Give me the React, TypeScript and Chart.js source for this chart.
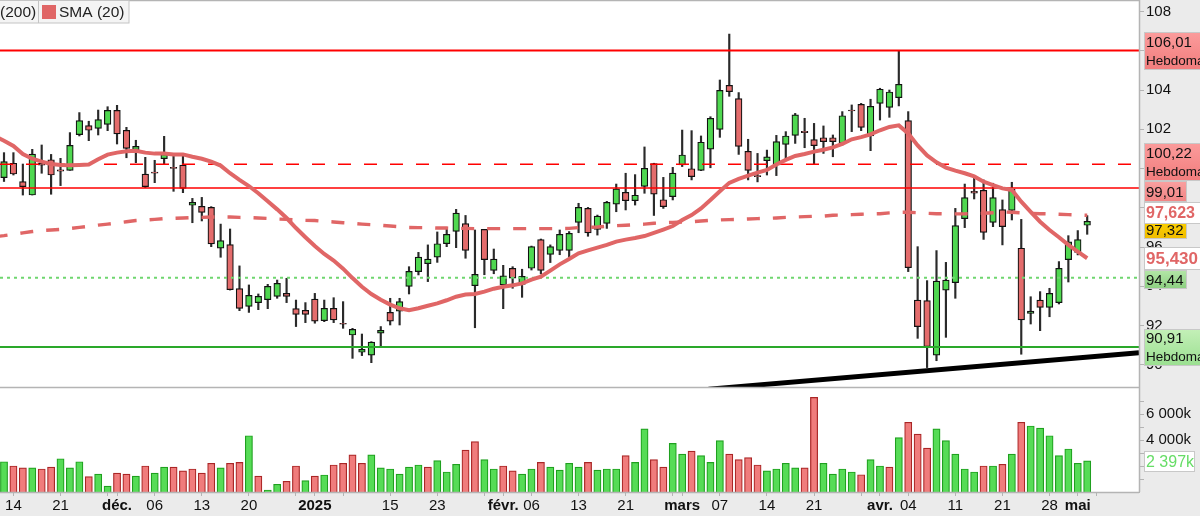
import { useEffect, useRef } from "react";
import { Chart, registerables } from "chart.js";

Chart.register(...registerables);

// daily candles, left to right
const opens = [
  99.54, 100.27, 99.33, 98.65, 100.27, 100.45, 99.93, 99.91, 101.73, 102.19,
  102.05, 102.25, 102.96, 101.95, 100.96, 99.72, 99.82, 100.5, 100.06, 100.17,
  98.13, 98.07, 98.02, 95.94, 96.12, 93.88, 92.98, 93.17, 93.32, 93.49,
  93.64, 92.86, 92.78, 93.35, 92.25, 92.88, 92.12, 91.52, 90.64, 90.49,
  91.61, 92.67, 92.74, 94.0, 94.75, 95.15, 95.49, 96.17, 96.8, 97.19,
  94.03, 96.9, 94.81, 94.07, 94.92, 94.1, 94.92, 96.38, 95.63, 95.83,
  95.83, 97.26, 97.97, 96.9, 97.21, 98.19, 98.79, 98.36, 99.09, 100.25,
  98.41, 98.57, 100.18, 99.99, 99.91, 100.99, 101.99, 104.24, 103.56, 100.88,
  99.64, 100.4, 100.18, 101.23, 101.69, 101.9, 101.47, 101.57, 101.57, 101.28,
  102.98, 103.27, 101.66, 103.32, 103.12, 103.61, 102.44, 93.3, 93.27, 90.49,
  93.8, 94.19, 97.45, 98.84, 98.89, 97.26, 97.91, 97.87, 95.94, 92.62,
  93.3, 92.93, 93.17, 95.36, 95.73, 97.11,
];
const closes = [
  100.35, 99.72, 99.08, 100.74, 100.17, 99.67, 99.86, 101.18, 102.44, 101.95,
  102.49, 102.96, 101.76, 101.03, 101.13, 99.08, 99.77, 100.72, 100.01, 98.99,
  98.28, 97.77, 96.16, 96.33, 93.83, 92.88, 93.54, 93.49, 94.0, 94.15,
  93.49, 92.57, 92.57, 92.23, 92.88, 92.29, 92.07, 91.81, 90.79, 91.16,
  91.76, 92.23, 93.22, 94.76, 95.49, 95.39, 96.17, 96.65, 97.73, 95.83,
  94.61, 95.36, 95.39, 94.53, 94.42, 94.51, 96.02, 94.81, 96.02, 96.65,
  96.7, 98.02, 96.72, 97.58, 98.28, 98.97, 98.36, 98.64, 100.01, 98.7,
  98.06, 99.77, 100.69, 99.59, 101.34, 102.56, 103.98, 103.92, 101.13, 99.91,
  99.59, 100.6, 101.37, 101.66, 102.73, 101.83, 101.17, 101.37, 101.37, 102.69,
  102.93, 102.1, 103.17, 104.04, 103.9, 104.29, 94.95, 91.95, 90.93, 94.27,
  94.32, 97.09, 98.52, 98.75, 96.75, 98.52, 97.04, 98.96, 92.29, 92.74,
  92.93, 93.64, 94.92, 96.27, 96.38, 97.31,
];
const highs = [
  100.81, 100.81, 100.23, 100.98, 101.2, 100.72, 100.52, 101.83, 102.85, 102.41,
  102.98, 103.15, 103.22, 102.1, 101.44, 100.57, 100.42, 101.64, 100.77, 100.69,
  98.48, 98.53, 98.06, 97.17, 96.92, 95.04, 94.07, 93.61, 94.1, 94.32,
  94.41, 93.3, 93.17, 93.64, 93.3, 93.42, 93.22, 91.86, 91.57, 91.18,
  91.95, 93.39, 93.39, 95.0, 95.73, 96.11, 96.77, 96.92, 97.92, 97.61,
  96.87, 96.9, 95.9, 95.07, 95.0, 94.87, 96.05, 96.41, 96.11, 96.87,
  96.79, 98.23, 98.02, 97.63, 98.33, 99.21, 99.76, 99.69, 101.1, 100.27,
  99.55, 100.06, 101.96, 101.93, 101.66, 102.64, 104.51, 106.85, 103.87, 101.49,
  100.77, 100.94, 101.69, 101.88, 102.81, 102.56, 102.3, 102.17, 101.71, 102.9,
  103.24, 103.32, 103.53, 104.09, 104.0, 106.0, 102.9, 96.02, 94.29, 95.82,
  95.22, 97.97, 99.21, 99.54, 99.42, 99.25, 98.4, 99.3, 97.41, 93.47,
  93.73, 93.9, 95.26, 96.58, 96.84, 97.6,
];
const lows = [
  99.34, 99.67, 98.65, 98.65, 99.76, 98.69, 99.13, 99.91, 101.66, 101.42,
  101.71, 101.93, 101.25, 100.55, 100.3, 99.03, 99.28, 100.23, 98.84, 98.77,
  97.24, 97.33, 96.02, 95.48, 93.81, 92.76, 92.67, 92.81, 92.86, 93.39,
  93.17, 91.95, 92.15, 92.12, 92.2, 92.15, 91.86, 90.33, 90.47, 90.11,
  90.93, 92.03, 92.03, 93.61, 94.58, 94.24, 95.22, 96.02, 95.97, 95.43,
  91.89, 94.59, 94.64, 92.86, 93.9, 93.44, 94.83, 94.63, 95.21, 95.61,
  95.48, 96.73, 96.55, 96.61, 96.95, 97.8, 97.89, 98.14, 98.74, 97.61,
  97.97, 98.4, 100.1, 99.42, 99.89, 100.04, 101.59, 103.68, 100.72, 99.42,
  99.32, 99.67, 99.64, 100.47, 101.28, 101.06, 100.21, 100.77, 100.6, 101.2,
  101.88, 101.93, 100.91, 102.47, 102.61, 103.19, 94.75, 91.35, 89.86, 90.21,
  91.4, 93.39, 96.99, 98.45, 96.39, 97.04, 96.11, 97.38, 90.54, 92.08,
  91.74, 92.45, 93.1, 94.22, 95.6, 96.65,
];

// moving averages start one session before the first visible candle
const sma20 = [
  101.66, 101.42, 101.15, 100.74, 100.5, 100.35, 100.23, 100.18, 100.17, 100.18, 100.2,
  100.47, 100.71, 100.81, 100.88, 100.91, 100.81, 100.76, 100.77, 100.72, 100.72,
  100.6, 100.5, 100.35, 100.15, 99.76, 99.42, 99.11, 98.74, 98.33, 97.92,
  97.48, 96.97, 96.5, 96.05, 95.65, 95.31, 94.9, 94.42, 93.98, 93.61,
  93.32, 93.07, 92.88, 92.78, 92.88, 93.01, 93.13, 93.29, 93.47, 93.58,
  93.61, 93.73, 93.88, 93.98, 94.05, 94.15, 94.34, 94.49, 94.8, 95.12,
  95.39, 95.68, 95.83, 95.97, 96.11, 96.28, 96.38, 96.46, 96.56, 96.72,
  96.89, 97.07, 97.38, 97.63, 97.97, 98.4, 98.84, 99.27, 99.47, 99.64,
  99.79, 99.93, 100.21, 100.44, 100.64, 100.74, 100.86, 100.96, 101.08, 101.25,
  101.49, 101.6, 101.74, 101.95, 102.12, 102.2, 101.79, 101.18, 100.67, 100.32,
  100.05, 99.89, 99.76, 99.6, 99.33, 99.16, 98.99, 98.91, 98.31, 97.79,
  97.29, 96.87, 96.5, 96.11, 95.77, 95.43,
];
const sma200 = [
  96.53, 96.58, 96.65, 96.72, 96.79, 96.84, 96.87, 96.9, 96.95, 97.0, 97.06,
  97.12, 97.17, 97.23, 97.29, 97.35, 97.38, 97.41, 97.45, 97.46, 97.48,
  97.5, 97.51, 97.53, 97.53, 97.53, 97.51, 97.5, 97.48, 97.46, 97.43,
  97.41, 97.38, 97.36, 97.35, 97.31, 97.28, 97.24, 97.21, 97.17, 97.14,
  97.11, 97.07, 97.04, 97.0, 96.99, 96.99, 96.97, 96.97, 96.95, 96.95,
  96.94, 96.94, 96.94, 96.94, 96.94, 96.94, 96.94, 96.94, 96.94, 96.94,
  96.95, 96.99, 97.0, 97.02, 97.06, 97.09, 97.11, 97.14, 97.17, 97.21,
  97.24, 97.26, 97.28, 97.29, 97.33, 97.36, 97.38, 97.4, 97.41, 97.43,
  97.45, 97.46, 97.48, 97.51, 97.53, 97.55, 97.57, 97.58, 97.62, 97.63,
  97.65, 97.67, 97.69, 97.7, 97.74, 97.77, 97.77, 97.75, 97.72, 97.7,
  97.69, 97.69, 97.69, 97.7, 97.72, 97.75, 97.79, 97.77, 97.74, 97.72,
  97.7, 97.69, 97.67, 97.65, 97.63, 97.62,
];

const volumes = [
  2330, 2000, 1850, 1850, 1770, 1920, 2560, 1850, 2330, 1180,
  1380, 460, 1460, 1380, 1230, 2000, 1460, 1920, 1920, 1620,
  1770, 1460, 2210, 1850, 2210, 2280, 4330, 1230, 150, 590,
  820, 2000, 870, 1230, 1310, 2080, 2210, 2850, 2210, 2850,
  1850, 1770, 1380, 1920, 2080, 1920, 2410, 1540, 2130, 3230,
  3870, 2490, 1770, 2000, 1620, 1380, 1770, 2280, 1920, 1690,
  2210, 1920, 2280, 1690, 1770, 1770, 2800, 2280, 4850, 2490,
  1920, 3740, 2920, 3150, 2800, 2280, 3950, 2920, 2490, 2640,
  2080, 1620, 1770, 2210, 1850, 1850, 7280, 2210, 1380, 1770,
  1540, 1330, 2490, 2000, 1920, 4180, 5360, 4460, 3380, 4850,
  3950, 2920, 1770, 1540, 2000, 2000, 2130, 2920, 5360, 5080,
  4920, 4330, 2800, 3310, 2210, 2400,
];
// 1 = green volume bar, 0 = red
const volumeUp = [
  1, 0, 0, 1, 0, 0, 1, 1, 1, 0, 1, 1, 0, 0, 1, 0, 1, 1, 0, 0,
  0, 0, 0, 1, 0, 0, 1, 0, 1, 1, 0, 0, 1, 0, 1, 0, 0, 0, 0, 1,
  1, 1, 1, 1, 1, 0, 1, 1, 1, 0, 0, 1, 1, 0, 0, 1, 1, 0, 1, 1,
  1, 1, 0, 1, 1, 1, 0, 1, 1, 0, 0, 1, 1, 0, 1, 1, 1, 0, 0, 0,
  0, 1, 1, 1, 1, 0, 0, 1, 1, 1, 1, 0, 1, 1, 0, 1, 0, 0, 0, 1,
  1, 1, 1, 1, 0, 1, 0, 1, 0, 1, 1, 1, 1, 1, 1, 1,
];

const weeklyLevels = [106.01, 100.22, 99.01, 94.44, 90.91];
const trendIndex = [74.8, 120.5];
const trendValues = [88.76, 90.62];

const tickIndex = [1, 6, 11, 12, 16, 21, 26, 31, 33, 36, 41, 46, 51, 53, 56, 61, 66, 71, 72, 76, 81, 86, 91, 93, 96, 101, 106, 111, 114, 116];
const tickLabels = ["14", "21", "", "déc.", "06", "13", "20", "", "2025", "", "15", "23", "", "févr.", "06", "13", "21", "", "mars", "07", "14", "21", "", "avr.", "04", "11", "21", "28", "mai", ""];
const boldLabels = ["déc.", "2025", "févr.", "mars", "avr.", "mai"];

const FONT = "Liberation Sans";
const RED = "#e06666";
const X_MIN = -0.425;
const X_MAX = 120.5;

function hLine(value: number, color: string, width: number, dash: number[] = []) {
  return {
    type: "line" as const,
    data: [{ x: X_MIN, y: value }, { x: X_MAX, y: value }],
    borderColor: color,
    borderWidth: width,
    borderDash: dash,
    pointRadius: 0,
    yAxisID: "y",
    order: 1,
  };
}

// no room kept for the edge labels, the plot touches the canvas
function fitAxis(scale: any) {
  scale.paddingTop = 0;
  scale.paddingBottom = 0;
  scale.paddingLeft = 0;
  scale.paddingRight = 0;
  if (scale.axis === "x") scale.height = 24;
  else scale.width = 61;
}

type Tag = { lines: string[]; top: number; h: number; w: number; bg: string[]; color: string; bold?: boolean; size?: number };

const tags: Tag[] = [
  { lines: ["106,01", "Hebdomadaire"], top: 32, h: 38, w: 55, bg: ["#fb9c9c", "#f17c7c"], color: "#111" },
  { lines: ["100,22", "Hebdomadaire"], top: 143, h: 38, w: 55, bg: ["#fb9c9c", "#f17c7c"], color: "#111" },
  { lines: ["99,01"], top: 181, h: 21, w: 41, bg: ["#f9a0a0", "#f18484"], color: "#111" },
  { lines: ["97,32"], top: 221, h: 18, w: 41, bg: ["#fbd000", "#f0bc00"], color: "#111" },
  { lines: ["97,623"], top: 202, h: 22, w: 55, bg: ["#ffffff", "#ffffff"], color: RED, bold: true, size: 16 },
  { lines: ["95,430"], top: 247, h: 23, w: 55, bg: ["#ffffff", "#ffffff"], color: RED, bold: true, size: 17 },
  { lines: ["94,44"], top: 270, h: 19, w: 41, bg: ["#b4e6a8", "#8ccf80"], color: "#111" },
  { lines: ["90,91", "Hebdomadaire"], top: 329, h: 37, w: 55, bg: ["#c4f0b8", "#9adf90"], color: "#111" },
  { lines: ["2 397k"], top: 451, h: 21, w: 49, bg: ["#ffffff", "#ffffff"], color: "#66dd66", size: 16 },
];

const frame = {
  id: "frame",
  beforeDraw(chart: Chart) {
    const { ctx, chartArea: a, width, height } = chart;
    ctx.save();
    ctx.fillStyle = "#ebebeb";
    ctx.fillRect(0, 0, width, height);
    ctx.fillStyle = "#ffffff";
    ctx.fillRect(a.left, a.top, a.right - a.left, a.bottom - a.top);
    ctx.restore();
  },
  afterDraw(chart: Chart) {
    const { ctx, chartArea: a } = chart;
    ctx.save();
    // panel borders
    ctx.strokeStyle = "#b4b4b4";
    ctx.lineWidth = 1.5;
    ctx.beginPath();
    ctx.moveTo(0, 0.5);
    ctx.lineTo(a.right, 0.5);
    ctx.moveTo(0, 387.5);
    ctx.lineTo(a.right, 387.5);
    ctx.moveTo(0, a.bottom + 0.5);
    ctx.lineTo(a.right, a.bottom + 0.5);
    ctx.moveTo(a.right + 0.5, 0);
    ctx.lineTo(a.right + 0.5, a.bottom);
    ctx.stroke();

    // legend strip, top left
    ctx.fillStyle = "#f4f4f4";
    ctx.fillRect(0, 0, 129, 23);
    ctx.strokeStyle = "#c4c4c4";
    ctx.lineWidth = 1;
    ctx.strokeRect(-1, 0.5, 130, 22.5);
    ctx.beginPath();
    ctx.moveTo(38.5, 0);
    ctx.lineTo(38.5, 23);
    ctx.stroke();
    ctx.fillStyle = RED;
    ctx.fillRect(42, 5, 14, 14);
    ctx.fillStyle = "#222";
    ctx.font = `15.5px "${FONT}"`;
    ctx.textBaseline = "middle";
    ctx.textAlign = "left";
    ctx.fillText("(200)", 0, 12.5);
    ctx.fillText("SMA (20)", 59, 12.5);

    // value tags on the right axis
    for (const t of tags) {
      const x = 1145;
      const g = ctx.createLinearGradient(0, t.top, 0, t.top + t.h);
      g.addColorStop(0, t.bg[0]);
      g.addColorStop(1, t.bg[1]);
      ctx.fillStyle = g;
      ctx.fillRect(x, t.top, t.w, t.h);
      ctx.strokeStyle = "#c8c8c8";
      ctx.strokeRect(x - 0.5, t.top + 0.5, t.w + 1, t.h - 1);
      ctx.fillStyle = t.color;
      const rowH = t.h / t.lines.length;
      t.lines.forEach((line, i) => {
        // the second row is the smaller period caption
        const size = i > 0 ? 13.5 : t.size ?? 15;
        ctx.font = `${t.bold ? "bold " : ""}${size}px "${FONT}"`;
        ctx.save();
        ctx.beginPath();
        ctx.rect(x, t.top, t.w, t.h);
        ctx.clip();
        ctx.fillText(line, x + 1, t.top + rowH * (i + 0.5) + 1);
        ctx.restore();
      });
    }
    ctx.restore();
  },
};

export default function App() {
  const canvasRef = useRef<HTMLCanvasElement | null>(null);

  useEffect(() => {
    if (!canvasRef.current) return;

    const chart = new Chart(canvasRef.current, {
      type: "bar",
      data: {
        datasets: [
          // lines go first so that they stay on top of the candles
          {
            type: "line",
            data: sma20.map((v, i) => ({ x: i - 1, y: v })),
            borderColor: RED,
            borderWidth: 4,
            pointRadius: 0,
            yAxisID: "y",
            order: 0,
          },
          {
            type: "line",
            data: sma200.map((v, i) => ({ x: i - 1, y: v })),
            borderColor: RED,
            borderWidth: 3.4,
            borderDash: [13, 13],
            pointRadius: 0,
            yAxisID: "y",
            order: 0,
          },
          hLine(weeklyLevels[0], "#ff0000", 2),
          hLine(weeklyLevels[1], "#ff0000", 1.6, [13, 13]),
          hLine(weeklyLevels[2], "#ff0000", 1.6),
          hLine(weeklyLevels[3], "#6fd66f", 2, [3, 4]),
          hLine(weeklyLevels[4], "#2aa82a", 2),
          {
            type: "line",
            data: trendIndex.map((x, i) => ({ x, y: trendValues[i] })),
            borderColor: "#000000",
            borderWidth: 5,
            pointRadius: 0,
            yAxisID: "y",
            order: 1,
          },
          {
            data: closes.map((c, i) => ({ x: i, y: [opens[i], c] })),
            backgroundColor: closes.map((c, i) => (c >= opens[i] ? "#4fd850" : "#e46c6c")),
            borderColor: "#111111",
            borderWidth: 1.2,
            borderSkipped: false,
            barThickness: 6.6,
            grouped: false,
            yAxisID: "y",
            order: 2,
          },
          {
            data: highs.map((h, i) => ({ x: i, y: [lows[i], h] })),
            backgroundColor: "#2a2a2a",
            barThickness: 1.5,
            grouped: false,
            yAxisID: "y",
            order: 3,
          },
          {
            data: volumes.map((v, i) => ({ x: i, y: v })),
            backgroundColor: volumeUp.map((u) => (u ? "#56dc56" : "#f07c7c")),
            borderColor: volumeUp.map((u) => (u ? "#1fa01f" : "#aa2626")),
            borderWidth: 1.2,
            barThickness: 7.2,
            grouped: false,
            yAxisID: "vol",
            order: 4,
          },
        ] as any,
      },
      plugins: [frame],
      options: {
        responsive: false,
        animation: false,
        layout: { padding: 0 },
        plugins: {
          legend: { display: false },
          tooltip: { enabled: false },
        },
        scales: {
          x: {
            type: "linear",
            offset: false,
            min: X_MIN,
            max: X_MAX,
            border: { color: "#b4b4b4" },
            grid: { offset: false, drawOnChartArea: false, tickLength: 4, color: "#b4b4b4" },
            afterFit: fitAxis,
            afterBuildTicks: (scale: any) => {
              scale.ticks = tickIndex.map((value) => ({ value }));
            },
            ticks: {
              autoSkip: false,
              maxRotation: 0,
              padding: 1,
              color: "#111",
              font: (ctx: any) => ({
                family: FONT,
                size: 15,
                weight: boldLabels.includes(tickLabels[ctx.index]) ? "bold" : "normal",
              }),
              callback: (_v: any, i: number) => tickLabels[i],
            },
          },
          y: {
            type: "linear",
            position: "right",
            stack: "right",
            stackWeight: 388,
            min: 88.82,
            max: 108.586,
            border: { color: "#b4b4b4" },
            grid: { drawOnChartArea: false, tickLength: 5, color: "#b4b4b4" },
            afterFit: fitAxis,
            ticks: {
              stepSize: 2,
              autoSkip: false,
              includeBounds: false,
              padding: 2,
              color: "#111",
              font: { family: FONT, size: 15 },
            },
          },
          vol: {
            axis: "y",
            type: "linear",
            position: "right",
            stack: "right",
            stackWeight: 104,
            min: 0,
            max: 8000,
            border: { color: "#b4b4b4" },
            grid: { drawOnChartArea: false, tickLength: 5, color: "#b4b4b4" },
            afterFit: fitAxis,
            afterBuildTicks: (scale: any) => {
              scale.ticks = scale.ticks.filter((t: any) => t.value > 0 && t.value < 8000);
            },
            ticks: {
              stepSize: 1000,
              autoSkip: false,
              padding: 2,
              color: "#111",
              font: { family: FONT, size: 15 },
              callback: (v: any) => (v % 2000 === 0 ? `${v / 1000} 000k` : ""),
            },
          },
        },
      } as any,
    });

    return () => chart.destroy();
  }, []);

  return (
    <div style={{ position: "fixed", left: 0, top: 0, width: 1200, height: 516 }}>
      <canvas ref={canvasRef} width={1200} height={516} />
    </div>
  );
}
